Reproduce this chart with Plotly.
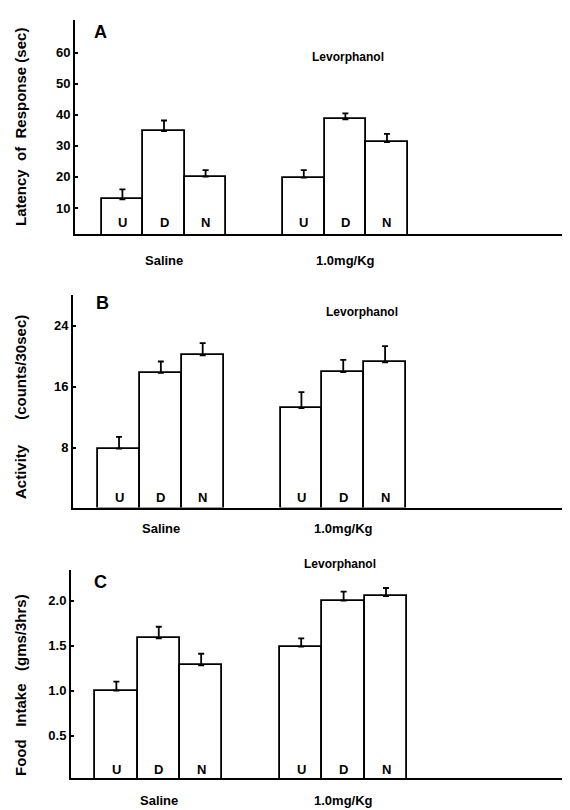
import plotly.graph_objects as go

# ---------------- data ----------------
groups = ["Saline", "1.0mg/Kg"]
conditions = ["U", "D", "N"]

latency_mean = [[12.8, 34.8, 20.1], [19.8, 38.6, 31.2]]
latency_err = [[3.2, 3.4, 2.1], [2.4, 1.9, 2.7]]

activity_mean = [[7.9, 17.8, 20.1], [13.2, 17.9, 19.2]]
activity_err = [[1.55, 1.5, 1.6], [2.1, 1.6, 2.1]]

food_mean = [[1.00, 1.58, 1.28], [1.49, 2.00, 2.05]]
food_err = [[0.10, 0.13, 0.13], [0.09, 0.10, 0.09]]

latency_ticks = [10, 20, 30, 40, 50, 60]
activity_ticks = [8, 16, 24]
food_ticks = [0.5, 1.0, 1.5, 2.0]
food_ticktext = ["0.5", "1.0", "1.5", "2.0"]

panel_letters = ["A", "B", "C"]
drug_label = "Levorphanol"
y_titles = [
    "Latency\u00a0 of\u00a0 Response (sec)",
    "Activity\u00a0\u00a0\u00a0\u00a0\u00a0 (counts/30sec)",
    "Food\u00a0\u00a0 Intake\u00a0\u00a0 (gms/3hrs)",
]

# ---------------- style / layout ----------------
# the page body has an 8px margin, so the figure is placed at (8, 8)
OFF = 8
W, H = 562, 802
FONT = "Liberation Sans"
GROUP_SPACING = 4.36


def px(x):
    return (x - OFF) / W


def py(y):
    return 1 - (y - OFF) / H


panels = [
    dict(mean=latency_mean, err=latency_err, ticks=latency_ticks,
         ticktext=[str(t) for t in latency_ticks],
         xdom=[px(75), 1.0], ydom=[py(234), py(20)],
         yrange=[1.6, 70.6], xrange=[-1.14, 10.76],
         letter=(100, 32), drug=(348, 57), ytitle=(20, 127),
         group_shift=-26, cond_shift=12),
    dict(mean=activity_mean, err=activity_err, ticks=activity_ticks,
         ticktext=[str(t) for t in activity_ticks],
         xdom=[px(73), 1.0], ydom=[py(507.5), py(295)],
         yrange=[0.2, 28], xrange=[-1.1, 10.78],
         letter=(102, 303), drug=(362, 312), ytitle=(20, 407),
         group_shift=-21, cond_shift=10),
    dict(mean=food_mean, err=food_err, ticks=food_ticks,
         ticktext=food_ticktext,
         xdom=[px(71), 1.0], ydom=[py(778), py(570)],
         yrange=[0.03, 2.34], xrange=[-1.07, 10.7],
         letter=(100, 582), drug=(340, 564), ytitle=(20, 685),
         group_shift=-22, cond_shift=9),
]

fig = go.Figure()
annotations = []

for i, p in enumerate(panels):
    ax = "" if i == 0 else str(i + 1)
    xref, yref = "x" + ax, "y" + ax
    xs, ys, es, labels = [], [], [], []
    for g in range(len(groups)):
        for c in range(len(conditions)):
            xs.append(g * GROUP_SPACING + c)
            ys.append(p["mean"][g][c])
            es.append(p["err"][g][c])
            labels.append(conditions[c])
    fig.add_trace(go.Bar(
        x=xs, y=ys, width=1.0, xaxis=xref, yaxis=yref,
        marker=dict(color="white", line=dict(color="black", width=1.8)),
        error_y=dict(type="data", symmetric=False, array=es,
                     arrayminus=[0] * len(es), color="black",
                     thickness=1.8, width=3),
        showlegend=False, hoverinfo="skip",
    ))
    fig.update_layout(**{
        ("xaxis" + ax): dict(domain=p["xdom"], anchor=yref, range=p["xrange"],
                             showgrid=False, zeroline=False, showline=True,
                             linecolor="black", linewidth=2, showticklabels=False,
                             ticks=""),
        ("yaxis" + ax): dict(domain=p["ydom"], anchor=xref, range=p["yrange"],
                             showgrid=False, zeroline=False, showline=True,
                             linecolor="black", linewidth=2, ticks="inside",
                             ticklen=3, tickwidth=1.5, tickcolor="black",
                             tickvals=p["ticks"], ticktext=p["ticktext"],
                             tickfont=dict(family=FONT, size=13, color="black",
                                           weight="bold")),
    })
    # condition letters inside bars
    for x, lab in zip(xs, labels):
        annotations.append(dict(
            x=x, xref=xref, y=0, yref=yref + " domain", yshift=p["cond_shift"],
            text=lab, showarrow=False, yanchor="middle",
            font=dict(family=FONT, size=13, color="black", weight="bold")))
    # group labels
    for g, name in enumerate(groups):
        annotations.append(dict(
            x=g * GROUP_SPACING + 1, xref=xref, y=0, yref=yref + " domain",
            yshift=p["group_shift"], text=name, showarrow=False,
            yanchor="middle",
            font=dict(family=FONT, size=13, color="black", weight="bold")))
    # panel letter
    annotations.append(dict(
        x=px(p["letter"][0]), y=py(p["letter"][1]), xref="paper",
        yref="paper", text=panel_letters[i], showarrow=False,
        xanchor="center", yanchor="middle",
        font=dict(family=FONT, size=18, color="black", weight="bold")))
    # drug label
    annotations.append(dict(
        x=px(p["drug"][0]), y=py(p["drug"][1]), xref="paper",
        yref="paper", text=drug_label, showarrow=False,
        xanchor="center", yanchor="middle",
        font=dict(family=FONT, size=12, color="black", weight="bold")))
    # y title
    annotations.append(dict(
        x=px(p["ytitle"][0]), y=py(p["ytitle"][1]), xref="paper",
        yref="paper", text=y_titles[i], showarrow=False, textangle=-90,
        xanchor="center", yanchor="middle",
        font=dict(family=FONT, size=15, color="black", weight="bold")))

fig.update_layout(
    width=W, height=H, margin=dict(l=0, r=0, t=0, b=0),
    plot_bgcolor="white", paper_bgcolor="white",
    annotations=annotations, showlegend=False, bargap=0,
)

fig.write_html("out.html")
